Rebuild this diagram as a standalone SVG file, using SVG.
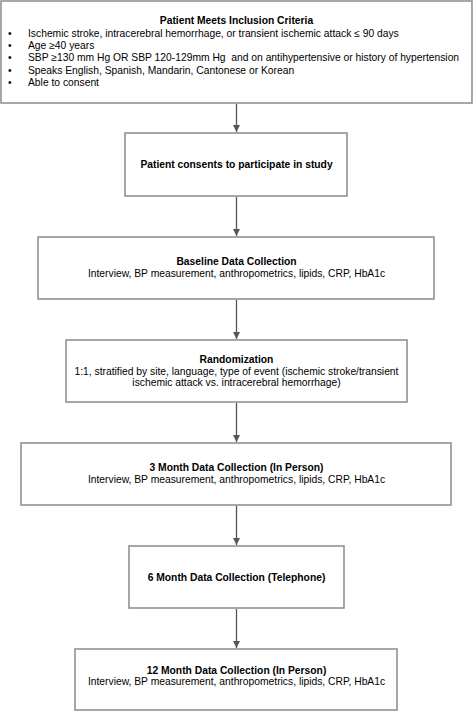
<svg xmlns="http://www.w3.org/2000/svg" width="473" height="711" viewBox="0 0 473 711">
<defs>
<style>
.box{fill:#fff;stroke:#8a8a8a;stroke-width:1.5}
text{font-family:"Liberation Sans",Arial,sans-serif;font-size:10.3px;fill:#000}
.b{font-weight:bold}
.c{text-anchor:middle}
.con{stroke:#555;stroke-width:1.3;fill:none;marker-end:url(#ah)}
</style>
<marker id="ah" markerWidth="8" markerHeight="8" refX="7" refY="4" orient="auto" markerUnits="userSpaceOnUse">
<path d="M0,0.5 L7,4 L0,7.5 Z" fill="#555"/>
</marker>
</defs>
<rect width="473" height="711" fill="#fff"/>
<g id="connectors">
<line class="con" x1="236.5" y1="104" x2="236.5" y2="132"/>
<line class="con" x1="236.5" y1="197" x2="236.5" y2="236"/>
<line class="con" x1="236.5" y1="300" x2="236.5" y2="339"/>
<line class="con" x1="236.5" y1="403" x2="236.5" y2="442"/>
<line class="con" x1="236.5" y1="506" x2="236.5" y2="545"/>
<line class="con" x1="236.5" y1="609" x2="236.5" y2="648"/>
</g>
<g id="criteria">
<rect class="box" x="1" y="1" width="471" height="102"/>
<text class="b c" x="236.5" y="24">Patient Meets Inclusion Criteria</text>
<text x="8" y="37">•</text><text x="28" y="37">Ischemic stroke, intracerebral hemorrhage, or transient ischemic attack ≤ 90 days</text>
<text x="8" y="49">•</text><text x="28" y="49">Age ≥40 years</text>
<text x="8" y="61">•</text><text x="28" y="61" xml:space="preserve">SBP ≥130 mm Hg OR SBP 120-129mm Hg  and on antihypertensive or history of hypertension</text>
<text x="8" y="73.5">•</text><text x="28" y="73.5">Speaks English, Spanish, Mandarin, Cantonese or Korean</text>
<text x="8" y="86">•</text><text x="28" y="86">Able to consent</text>
</g>
<g id="consent">
<rect class="box" x="125" y="133" width="222" height="63"/>
<text class="b c" x="236.5" y="168">Patient consents to participate in study</text>
</g>
<g id="baseline">
<rect class="box" x="38" y="237" width="396" height="62"/>
<text class="b c" x="236.5" y="265">Baseline Data Collection</text>
<text class="c" x="236.5" y="276.5">Interview, BP measurement, anthropometrics, lipids, CRP, HbA1c</text>
</g>
<g id="randomization">
<rect class="box" x="66" y="340" width="341" height="62"/>
<text class="b c" x="236.5" y="362.5">Randomization</text>
<text class="c" x="236.5" y="374.5">1:1, stratified by site, language, type of event (ischemic stroke/transient</text>
<text class="c" x="236.5" y="386">ischemic attack vs. intracerebral hemorrhage)</text>
</g>
<g id="month3">
<rect class="box" x="21" y="443" width="430" height="62"/>
<text class="b c" x="236.5" y="471">3 Month Data Collection (In Person)</text>
<text class="c" x="236.5" y="482.5">Interview, BP measurement, anthropometrics, lipids, CRP, HbA1c</text>
</g>
<g id="month6">
<rect class="box" x="129" y="546" width="215" height="62"/>
<text class="b c" x="236.5" y="581">6 Month Data Collection (Telephone)</text>
</g>
<g id="month12">
<rect class="box" x="75" y="649" width="322" height="61"/>
<text class="b c" x="236.5" y="673.5">12 Month Data Collection (In Person)</text>
<text class="c" x="236.5" y="685">Interview, BP measurement, anthropometrics, lipids, CRP, HbA1c</text>
</g>
</svg>
